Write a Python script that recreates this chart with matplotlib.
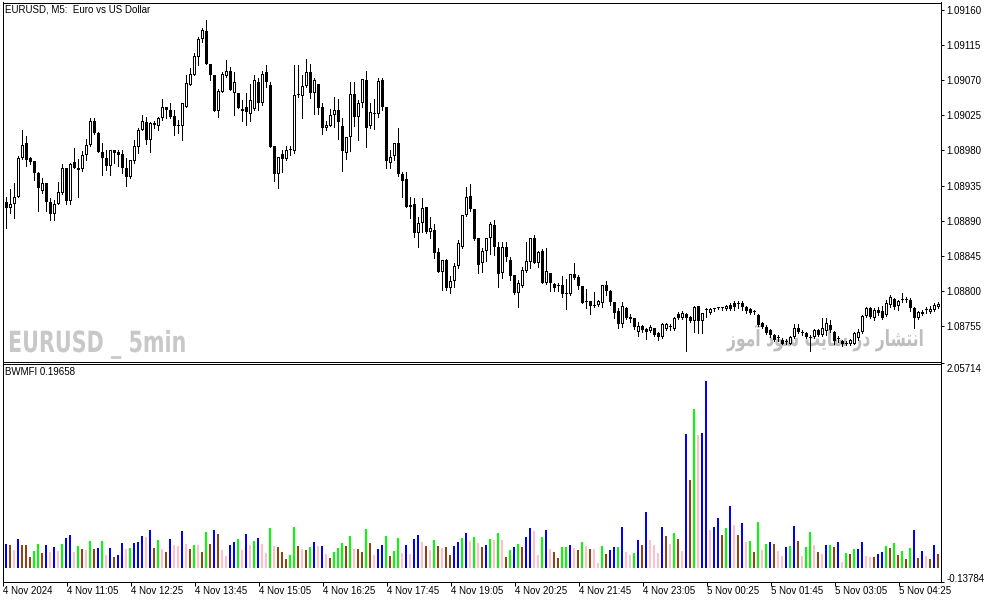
import matplotlib
matplotlib.use("Agg")
import matplotlib.pyplot as plt
import numpy as np
from matplotlib.patheffects import AbstractPathEffect
from matplotlib.transforms import Affine2D

W, H = 994, 603

symbol_title = "EURUSD, M5:  Euro vs US Dollar"
indicator_title = "BWMFI 0.19658"
watermark_left = "EURUSD _ 5min"
# "انتشار در سایت سود آموز" written with Arabic presentation forms in visual
# (left-to-right) order, since matplotlib does no Arabic shaping / bidi.
watermark_right = ("\uFEAF\uFEEE\uFEE3\uFE81 \uFEA9\uFEEE\uFEB3 "
                   "\uFE96\uFEF3\uFE8E\uFEB3 \uFEAD\uFEA9 "
                   "\uFEAD\uFE8E\uFEB8\uFE98\uFEE7\uFE8D")

time_labels = ["4 Nov 2024", "4 Nov 11:05", "4 Nov 12:25", "4 Nov 13:45",
               "4 Nov 15:05", "4 Nov 16:25", "4 Nov 17:45", "4 Nov 19:05",
               "4 Nov 20:25", "4 Nov 21:45", "4 Nov 23:05", "5 Nov 00:25",
               "5 Nov 01:45", "5 Nov 03:05", "5 Nov 04:25"]
time_label_bars = [0, 16, 32, 48, 64, 80, 96, 112, 128, 144, 160, 176, 192, 208, 224]

price_ticks = [1.09160, 1.09115, 1.09070, 1.09025, 1.08980,
               1.08935, 1.08890, 1.08845, 1.08800, 1.08755]
price_range = (1.08710, 1.09169)
mfi_range = (-0.13784, 2.05714)

# M5 candles
open_ = [
    1.08914, 1.08906, 1.08911, 1.08920, 1.08970, 1.08990, 1.08970, 1.08966, 1.08951, 1.08928,
    1.08938, 1.08914, 1.08898, 1.08911, 1.08925, 1.08958, 1.08915, 1.08965, 1.08957, 1.08956,
    1.08974, 1.08987, 1.09017, 1.09002, 1.08978, 1.08970, 1.08960, 1.08980, 1.08978, 1.08975,
    1.08958, 1.08946, 1.08966, 1.08984, 1.09006, 1.09016, 1.08993, 1.09015, 1.09011, 1.09021,
    1.09036, 1.09031, 1.09024, 1.09013, 1.09011, 1.09035, 1.09063, 1.09076, 1.09099, 1.09122,
    1.09132, 1.09090, 1.09076, 1.09030, 1.09054, 1.09075, 1.09081, 1.09053, 1.09053, 1.09033,
    1.09035, 1.09026, 1.09033, 1.09067, 1.09040, 1.09080, 1.09063, 1.08985, 1.08950, 1.08975,
    1.08969, 1.08980, 1.08979, 1.09051, 1.09049, 1.09062, 1.09080, 1.09053, 1.09065, 1.09036,
    1.09008, 1.09011, 1.09025, 1.09031, 1.09011, 1.08976, 1.08997, 1.09052, 1.09022, 1.09040,
    1.09070, 1.09011, 1.09026, 1.09027, 1.09070, 1.09035, 1.08964, 1.08973, 1.08990, 1.08950,
    1.08943, 1.08910, 1.08911, 1.08874, 1.08887, 1.08907, 1.08875, 1.08878, 1.08850, 1.08824,
    1.08840, 1.08804, 1.08813, 1.08832, 1.08856, 1.08897, 1.08921, 1.08905, 1.08868, 1.08836,
    1.08851, 1.08868, 1.08884, 1.08857, 1.08823, 1.08856, 1.08840, 1.08820, 1.08797, 1.08806,
    1.08826, 1.08837, 1.08868, 1.08836, 1.08851, 1.08811, 1.08823, 1.08809, 1.08806, 1.08808,
    1.08796, 1.08796, 1.08822, 1.08818, 1.08806, 1.08786, 1.08787, 1.08781, 1.08782, 1.08785,
    1.08808, 1.08800, 1.08786, 1.08774, 1.08758, 1.08778, 1.08767, 1.08765, 1.08748, 1.08755,
    1.08751, 1.08749, 1.08753, 1.08746, 1.08741, 1.08751, 1.08754, 1.08751, 1.08771, 1.08765,
    1.08771, 1.08767, 1.08762, 1.08781, 1.08762, 1.08776, 1.08772, 1.08777, 1.08778, 1.08778,
    1.08777, 1.08782, 1.08785, 1.08783, 1.08785, 1.08780, 1.08777, 1.08773, 1.08769, 1.08759,
    1.08754, 1.08750, 1.08744, 1.08740, 1.08737, 1.08735, 1.08733, 1.08741, 1.08753, 1.08746,
    1.08746, 1.08740, 1.08741, 1.08750, 1.08744, 1.08749, 1.08757, 1.08748, 1.08739, 1.08736,
    1.08733, 1.08732, 1.08733, 1.08740, 1.08748, 1.08768, 1.08778, 1.08765, 1.08776, 1.08774,
    1.08769, 1.08782, 1.08790, 1.08781, 1.08788, 1.08788, 1.08788, 1.08778, 1.08765, 1.08771,
    1.08776, 1.08773, 1.08776, 1.08780,
]
high = [
    1.08920, 1.08930, 1.08938, 1.08973, 1.09006, 1.08998, 1.08971, 1.08966, 1.08952, 1.08944,
    1.08938, 1.08919, 1.08916, 1.08939, 1.08962, 1.08958, 1.08964, 1.08983, 1.08969, 1.08979,
    1.08994, 1.09021, 1.09021, 1.09003, 1.08989, 1.08980, 1.08980, 1.08981, 1.08980, 1.08980,
    1.08970, 1.08967, 1.08993, 1.09008, 1.09025, 1.09022, 1.09016, 1.09017, 1.09022, 1.09045,
    1.09036, 1.09040, 1.09031, 1.09019, 1.09040, 1.09076, 1.09085, 1.09104, 1.09125, 1.09137,
    1.09146, 1.09091, 1.09076, 1.09059, 1.09080, 1.09095, 1.09086, 1.09080, 1.09053, 1.09044,
    1.09053, 1.09065, 1.09076, 1.09072, 1.09082, 1.09089, 1.09067, 1.08985, 1.08971, 1.08981,
    1.08985, 1.08985, 1.09089, 1.09089, 1.09076, 1.09097, 1.09091, 1.09072, 1.09065, 1.09040,
    1.09017, 1.09033, 1.09048, 1.09045, 1.09021, 1.08997, 1.09067, 1.09067, 1.09044, 1.09071,
    1.09081, 1.09040, 1.09045, 1.09072, 1.09072, 1.09035, 1.08980, 1.08990, 1.09008, 1.08952,
    1.08952, 1.08920, 1.08919, 1.08895, 1.08919, 1.08907, 1.08895, 1.08886, 1.08855, 1.08840,
    1.08841, 1.08819, 1.08836, 1.08865, 1.08897, 1.08933, 1.08937, 1.08905, 1.08868, 1.08855,
    1.08868, 1.08888, 1.08891, 1.08863, 1.08863, 1.08863, 1.08843, 1.08820, 1.08814, 1.08831,
    1.08863, 1.08868, 1.08872, 1.08851, 1.08854, 1.08855, 1.08823, 1.08811, 1.08810, 1.08819,
    1.08815, 1.08822, 1.08836, 1.08820, 1.08806, 1.08803, 1.08787, 1.08799, 1.08788, 1.08808,
    1.08813, 1.08801, 1.08786, 1.08778, 1.08786, 1.08780, 1.08771, 1.08765, 1.08760, 1.08757,
    1.08753, 1.08757, 1.08753, 1.08748, 1.08759, 1.08759, 1.08758, 1.08767, 1.08773, 1.08774,
    1.08772, 1.08768, 1.08781, 1.08781, 1.08772, 1.08778, 1.08778, 1.08778, 1.08780, 1.08780,
    1.08782, 1.08785, 1.08787, 1.08787, 1.08787, 1.08781, 1.08778, 1.08776, 1.08771, 1.08760,
    1.08757, 1.08751, 1.08745, 1.08744, 1.08740, 1.08739, 1.08742, 1.08758, 1.08758, 1.08750,
    1.08748, 1.08744, 1.08751, 1.08751, 1.08765, 1.08765, 1.08763, 1.08749, 1.08742, 1.08737,
    1.08736, 1.08739, 1.08748, 1.08751, 1.08769, 1.08780, 1.08780, 1.08778, 1.08780, 1.08781,
    1.08788, 1.08795, 1.08791, 1.08788, 1.08797, 1.08792, 1.08791, 1.08780, 1.08774, 1.08776,
    1.08780, 1.08781, 1.08785, 1.08786,
]
low = [
    1.08881, 1.08900, 1.08893, 1.08920, 1.08969, 1.08960, 1.08962, 1.08942, 1.08902, 1.08925,
    1.08902, 1.08891, 1.08891, 1.08911, 1.08924, 1.08911, 1.08911, 1.08958, 1.08920, 1.08953,
    1.08967, 1.08985, 1.09001, 1.08978, 1.08948, 1.08955, 1.08948, 1.08964, 1.08960, 1.08951,
    1.08935, 1.08944, 1.08964, 1.08976, 1.09006, 1.08988, 1.08978, 1.09008, 1.09006, 1.09019,
    1.09021, 1.09021, 1.08999, 1.09002, 1.08993, 1.09035, 1.09063, 1.09076, 1.09089, 1.09118,
    1.09090, 1.09070, 1.09030, 1.09022, 1.09054, 1.09074, 1.09057, 1.09025, 1.09034, 1.09017,
    1.09013, 1.09017, 1.09031, 1.09031, 1.09038, 1.09061, 1.08984, 1.08941, 1.08932, 1.08952,
    1.08967, 1.08974, 1.08976, 1.09048, 1.09021, 1.09061, 1.09047, 1.09026, 1.09026, 1.09001,
    1.09006, 1.09011, 1.09010, 1.08994, 1.08953, 1.08969, 1.08979, 1.09011, 1.08993, 1.09035,
    1.08984, 1.09008, 1.09007, 1.09022, 1.09031, 1.08957, 1.08958, 1.08967, 1.08947, 1.08920,
    1.08907, 1.08893, 1.08869, 1.08857, 1.08875, 1.08874, 1.08868, 1.08842, 1.08824, 1.08801,
    1.08801, 1.08797, 1.08805, 1.08829, 1.08855, 1.08896, 1.08902, 1.08865, 1.08823, 1.08824,
    1.08838, 1.08847, 1.08846, 1.08805, 1.08817, 1.08838, 1.08814, 1.08796, 1.08780, 1.08805,
    1.08824, 1.08829, 1.08836, 1.08831, 1.08811, 1.08809, 1.08800, 1.08800, 1.08800, 1.08792,
    1.08777, 1.08795, 1.08815, 1.08803, 1.08785, 1.08778, 1.08771, 1.08780, 1.08781, 1.08780,
    1.08795, 1.08782, 1.08765, 1.08753, 1.08754, 1.08764, 1.08760, 1.08751, 1.08742, 1.08748,
    1.08739, 1.08748, 1.08742, 1.08737, 1.08740, 1.08750, 1.08750, 1.08750, 1.08764, 1.08764,
    1.08723, 1.08760, 1.08748, 1.08746, 1.08746, 1.08767, 1.08771, 1.08774, 1.08777, 1.08776,
    1.08776, 1.08776, 1.08776, 1.08778, 1.08776, 1.08772, 1.08771, 1.08771, 1.08755, 1.08753,
    1.08745, 1.08741, 1.08736, 1.08736, 1.08732, 1.08732, 1.08732, 1.08740, 1.08746, 1.08744,
    1.08740, 1.08723, 1.08740, 1.08742, 1.08742, 1.08744, 1.08748, 1.08733, 1.08735, 1.08730,
    1.08731, 1.08731, 1.08732, 1.08737, 1.08746, 1.08767, 1.08765, 1.08763, 1.08769, 1.08764,
    1.08768, 1.08780, 1.08777, 1.08776, 1.08786, 1.08786, 1.08774, 1.08753, 1.08764, 1.08769,
    1.08772, 1.08772, 1.08774, 1.08778,
]
close = [
    1.08906, 1.08912, 1.08920, 1.08970, 1.08987, 1.08967, 1.08965, 1.08951, 1.08932, 1.08938,
    1.08914, 1.08898, 1.08911, 1.08927, 1.08958, 1.08915, 1.08962, 1.08958, 1.08955, 1.08974,
    1.08987, 1.09017, 1.09002, 1.08978, 1.08970, 1.08960, 1.08980, 1.08976, 1.08974, 1.08958,
    1.08946, 1.08967, 1.08985, 1.09006, 1.09017, 1.08993, 1.09015, 1.09013, 1.09021, 1.09035,
    1.09031, 1.09022, 1.09011, 1.09011, 1.09040, 1.09066, 1.09077, 1.09100, 1.09122, 1.09134,
    1.09090, 1.09076, 1.09030, 1.09056, 1.09077, 1.09081, 1.09057, 1.09067, 1.09034, 1.09030,
    1.09029, 1.09044, 1.09070, 1.09040, 1.09077, 1.09067, 1.08984, 1.08950, 1.08971, 1.08969,
    1.08981, 1.08980, 1.09051, 1.09051, 1.09062, 1.09080, 1.09053, 1.09070, 1.09034, 1.09008,
    1.09012, 1.09025, 1.09031, 1.09016, 1.08979, 1.08997, 1.09052, 1.09022, 1.09040, 1.09071,
    1.09008, 1.09029, 1.09026, 1.09068, 1.09035, 1.08966, 1.08971, 1.08990, 1.08950, 1.08941,
    1.08907, 1.08907, 1.08874, 1.08887, 1.08906, 1.08875, 1.08881, 1.08849, 1.08824, 1.08840,
    1.08804, 1.08813, 1.08832, 1.08861, 1.08897, 1.08920, 1.08905, 1.08866, 1.08834, 1.08851,
    1.08868, 1.08886, 1.08856, 1.08822, 1.08856, 1.08843, 1.08819, 1.08797, 1.08810, 1.08827,
    1.08838, 1.08868, 1.08836, 1.08850, 1.08811, 1.08826, 1.08811, 1.08804, 1.08806, 1.08796,
    1.08796, 1.08822, 1.08817, 1.08806, 1.08785, 1.08786, 1.08781, 1.08781, 1.08787, 1.08808,
    1.08800, 1.08786, 1.08772, 1.08758, 1.08781, 1.08765, 1.08764, 1.08754, 1.08755, 1.08750,
    1.08748, 1.08754, 1.08744, 1.08741, 1.08758, 1.08758, 1.08754, 1.08765, 1.08765, 1.08772,
    1.08765, 1.08762, 1.08780, 1.08762, 1.08772, 1.08776, 1.08777, 1.08777, 1.08778, 1.08778,
    1.08781, 1.08777, 1.08780, 1.08783, 1.08780, 1.08774, 1.08772, 1.08773, 1.08757, 1.08754,
    1.08746, 1.08744, 1.08737, 1.08740, 1.08733, 1.08735, 1.08741, 1.08753, 1.08748, 1.08746,
    1.08741, 1.08740, 1.08750, 1.08744, 1.08753, 1.08759, 1.08750, 1.08736, 1.08739, 1.08732,
    1.08733, 1.08737, 1.08746, 1.08748, 1.08768, 1.08778, 1.08767, 1.08776, 1.08772, 1.08765,
    1.08785, 1.08792, 1.08780, 1.08787, 1.08788, 1.08788, 1.08778, 1.08765, 1.08773, 1.08773,
    1.08776, 1.08777, 1.08782, 1.08783,
]

# Bill Williams Market Facilitation Index, one bar per candle
mfi = [
    0.243, 0.233, 0.179, 0.290, 0.233, 0.233, 0.108, 0.169, 0.239, 0.148,
    0.229, 0.158, 0.209, 0.169, 0.239, 0.300, 0.330, 0.158, 0.219, 0.189,
    0.179, 0.270, 0.189, 0.199, 0.270, 0.128, 0.199, 0.108, 0.128, 0.249,
    0.189, 0.199, 0.249, 0.259, 0.320, 0.310, 0.381, 0.199, 0.280, 0.189,
    0.158, 0.290, 0.229, 0.219, 0.371, 0.239, 0.189, 0.229, 0.229, 0.158,
    0.361, 0.239, 0.381, 0.340, 0.179, 0.118, 0.229, 0.259, 0.290, 0.179,
    0.340, 0.229, 0.270, 0.300, 0.239, 0.148, 0.401, 0.219, 0.209, 0.158,
    0.088, 0.128, 0.411, 0.219, 0.189, 0.179, 0.209, 0.259, 0.219, 0.219,
    0.138, 0.098, 0.158, 0.199, 0.249, 0.219, 0.320, 0.189, 0.189, 0.158,
    0.391, 0.249, 0.128, 0.189, 0.229, 0.320, 0.118, 0.169, 0.300, 0.148,
    0.229, 0.138, 0.290, 0.330, 0.259, 0.219, 0.179, 0.280, 0.219, 0.199,
    0.209, 0.128, 0.219, 0.259, 0.300, 0.350, 0.270, 0.310, 0.249, 0.209,
    0.229, 0.290, 0.280, 0.350, 0.280, 0.108, 0.179, 0.209, 0.239, 0.209,
    0.310, 0.401, 0.371, 0.128, 0.310, 0.381, 0.189, 0.158, 0.098, 0.209,
    0.209, 0.229, 0.199, 0.179, 0.259, 0.219, 0.189, 0.189, 0.047, 0.219,
    0.138, 0.179, 0.209, 0.209, 0.411, 0.158, 0.128, 0.148, 0.280, 0.229,
    0.563, 0.280, 0.229, 0.148, 0.411, 0.320, 0.239, 0.350, 0.290, 0.169,
    1.351, 0.886, 1.604, 1.341, 1.361, 1.877, 0.381, 0.411, 0.502, 0.330,
    0.401, 0.623, 0.431, 0.330, 0.452, 0.259, 0.270, 0.158, 0.462, 0.179,
    0.239, 0.259, 0.239, 0.169, 0.118, 0.209, 0.219, 0.421, 0.270, 0.118,
    0.209, 0.361, 0.229, 0.158, 0.138, 0.229, 0.229, 0.209, 0.259, 0.057,
    0.148, 0.138, 0.189, 0.189, 0.259, 0.118, 0.108, 0.108, 0.138, 0.158,
    0.219, 0.199, 0.249, 0.128, 0.169, 0.088, 0.199, 0.381, 0.098, 0.169,
    0.118, 0.088, 0.229, 0.138,
]
# G = green (MFI up, volume up), F = fade (both down),
# K = fake (MFI up, volume down), S = squat (MFI down, volume up)
mfi_state = (
    "KFSKFFFGGF" "KSKSGKKSGF" "SGFKGSKFKK" "SGKKKSKFGS" "FKSSKSFGSF"
    "GFKFSSKKGS" "KSGKSSGSFF" "FGGFSFGKSK" "SFGGGFGSFF" "GFSKKGFGGS"
    "KSKKSFSGFS" "FFKKGKSGSF" "KGSG"
    "SFGKGFKKSS" "GKSFFGGKSF" "GSFSSGFKKG" "KSSGKFKSSS" "KFSGFSKFGS"
    "KKSKKFGKSF" "KSGFGSGKFS" "SKGKFSGGSF" "SKGFKSGFGK" "KSSFKKGFGF"
    "GFGKFKSFKF"
)
state_colors = {"G": "#00FF00", "F": "#8B4513", "K": "#0000FF", "S": "#FFC0CB"}


class Stretch(AbstractPathEffect):
    """Draw a text taller than its font size, about its baseline
    (gives the tall, condensed look of the chart's watermarks)."""

    def __init__(self, sy):
        super().__init__()
        self.sy = sy

    def draw_path(self, renderer, gc, tpath, affine, rgbFace=None):
        renderer.draw_path(gc, tpath, Affine2D().scale(1.0, self.sy) + affine, rgbFace)


plt.rcParams["font.family"] = ["Liberation Sans", "DejaVu Sans"]
plt.rcParams["font.size"] = 7

fig = plt.figure(figsize=(W / 100, H / 100), dpi=100)
fig.patch.set_facecolor("white")
ax_p = fig.add_axes([2.5 / W, 1 - 361.5 / H, 938.5 / W, 359 / H])
ax_m = fig.add_axes([2.5 / W, 1 - 581.5 / H, 938.5 / W, 218 / H], sharex=ax_p)

for ax in (ax_p, ax_m):
    for sp in ax.spines.values():
        sp.set_linewidth(0.72)
        sp.set_color("black")
    ax.yaxis.tick_right()

x = np.arange(len(open_))
o, h, l, c = (np.array(v) for v in (open_, high, low, close))
body_lo = np.minimum(o, c)
body_hi = np.maximum(o, c)
bull = c >= o
one_px = (price_range[1] - price_range[0]) / 359.0

# wicks, then 3px black bodies, then a 1px white core for bullish candles
ax_p.vlines(x, l, h, colors="black", linewidth=0.72, zorder=2, antialiased=False)
ax_p.bar(x, np.maximum(body_hi - body_lo, one_px), bottom=body_lo, width=0.75,
         color="black", linewidth=0, zorder=3, antialiased=False)
core = bull & (body_hi - body_lo > 2 * one_px)
ax_p.bar(x[core], (body_hi - body_lo)[core] - 2 * one_px, bottom=body_lo[core] + one_px,
         width=0.25, color="white", linewidth=0, zorder=4, antialiased=False)

ax_p.set_xlim(-0.96, len(open_) - 0.33)
ax_p.set_ylim(*price_range)
ax_p.set_yticks(price_ticks)
ax_p.set_yticklabels([f"{p:.5f}" for p in price_ticks])
ax_p.tick_params(axis="y", direction="out", length=2.5, width=0.72, pad=1.5, labelsize=7)
ax_p.tick_params(axis="x", bottom=False, labelbottom=False)

ax_m.bar(x - 0.17, mfi, width=0.5, color=[state_colors[s] for s in mfi_state],
         linewidth=0, antialiased=False)
ax_m.set_ylim(*mfi_range)
ax_m.set_yticks(mfi_range)
ax_m.set_yticklabels([f"{v:.5f}" for v in mfi_range])
ylabs = ax_m.get_yticklabels()
ylabs[0].set_va("baseline")
ylabs[1].set_va("top")
ax_m.tick_params(axis="y", direction="out", length=2.5, width=0.72, pad=1.5, labelsize=7)
ax_m.set_xticks(np.array(time_label_bars) - 0.8)
ax_m.set_xticklabels(time_labels, ha="left")
ax_m.tick_params(axis="x", direction="out", length=3, width=0.72, pad=0.5, labelsize=7)

# chart captions and watermarks
fig.text(5 / W, 1 - 10 / H, symbol_title, ha="left", va="center", fontsize=7)
fig.text(5 / W, 1 - 372 / H, indicator_title, ha="left", va="center", fontsize=7)
ax_p.text(8 / W, 1 - 352 / H, watermark_left, transform=fig.transFigure,
          ha="left", va="baseline", fontsize=14.9, fontweight="bold",
          family=["DejaVu Sans"], color="#C8C8C8", zorder=1,
          path_effects=[Stretch(1.41)])
ax_p.text(727 / W, 1 - 346 / H, watermark_right, transform=fig.transFigure,
          ha="left", va="baseline", fontsize=11.2, fontweight="bold",
          family=["DejaVu Sans"], color="#BEBEBE", zorder=1,
          path_effects=[Stretch(1.43)])

fig.savefig("out.png", dpi=100)
